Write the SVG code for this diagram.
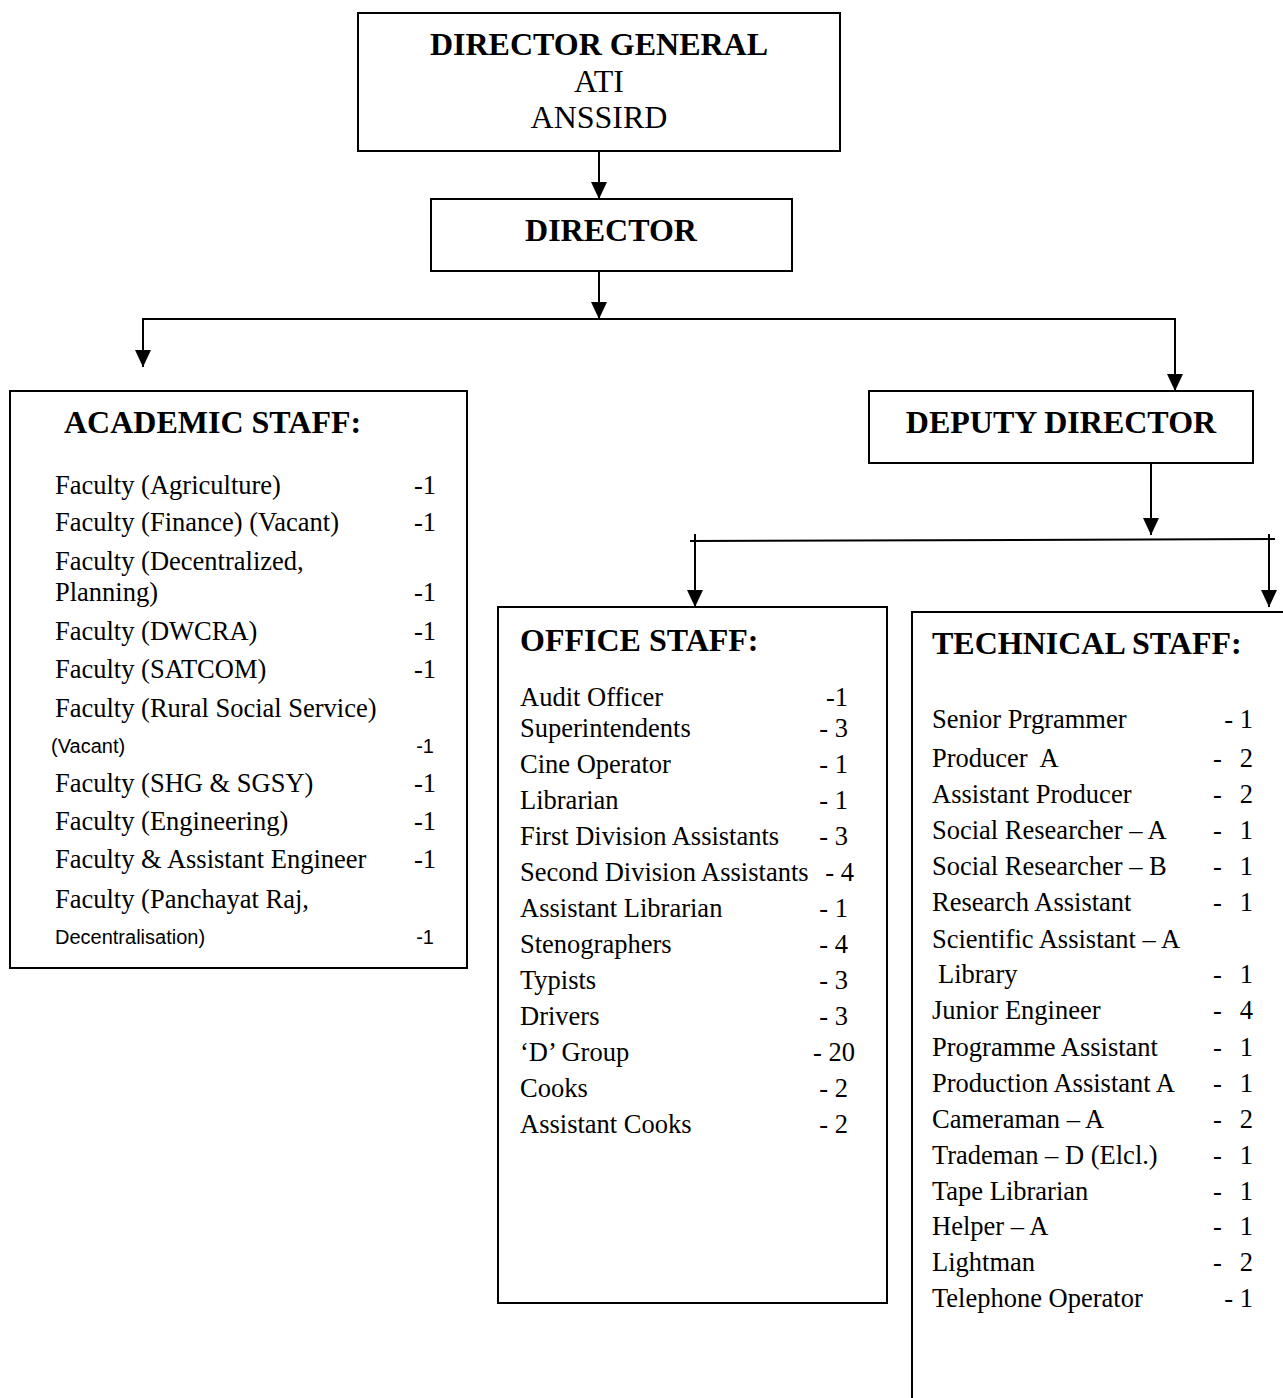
<svg xmlns="http://www.w3.org/2000/svg" width="1283" height="1398" viewBox="0 0 1283 1398">
<style>
.box{fill:#fff;stroke:#000;stroke-width:2}
.ln{fill:none;stroke:#000;stroke-width:2}
.t{font-family:"Liberation Serif","Times New Roman",serif;font-size:26.5px;fill:#000}
.h{font-family:"Liberation Serif","Times New Roman",serif;font-size:32px;font-weight:bold;fill:#000}
.r{font-family:"Liberation Serif","Times New Roman",serif;font-size:32px;fill:#000}
.s{font-family:"Liberation Sans",Arial,sans-serif;font-size:20px;fill:#000}
.c{text-anchor:middle}
.e{text-anchor:end}
</style>
<defs>
<marker id="arr" markerUnits="userSpaceOnUse" markerWidth="17" markerHeight="16" refX="17" refY="8" orient="auto">
<path d="M0,0 L17,8 L0,16 z" fill="#000"/>
</marker>
</defs>
<rect width="1283" height="1398" fill="#fff"/>

<g id="connectors">
<line class="ln" x1="599" y1="151" x2="599" y2="199" marker-end="url(#arr)"/>
<line class="ln" x1="599" y1="271" x2="599" y2="319" marker-end="url(#arr)"/>
<line class="ln" x1="143" y1="319" x2="1176" y2="319"/>
<line class="ln" x1="143" y1="318" x2="143" y2="367" marker-end="url(#arr)"/>
<line class="ln" x1="1175" y1="318" x2="1175" y2="391" marker-end="url(#arr)"/>
<line class="ln" x1="1151" y1="463" x2="1151" y2="535" marker-end="url(#arr)"/>
<line class="ln" x1="690" y1="541" x2="1275" y2="539"/>
<line class="ln" x1="695" y1="534" x2="695" y2="607" marker-end="url(#arr)"/>
<line class="ln" x1="1269" y1="534" x2="1269" y2="607" marker-end="url(#arr)"/>
</g>

<g id="director-general">
<rect class="box" x="358" y="13" width="482" height="138"/>
<text class="h c" x="599" y="55">DIRECTOR GENERAL</text>
<text class="r c" x="599" y="92">ATI</text>
<text class="r c" x="599" y="128">ANSSIRD</text>
</g>

<g id="director">
<rect class="box" x="431" y="199" width="361" height="72"/>
<text class="h c" x="611" y="241">DIRECTOR</text>
</g>

<g id="deputy-director">
<rect class="box" x="869" y="391" width="384" height="72"/>
<text class="h c" x="1061" y="433">DEPUTY DIRECTOR</text>
</g>

<g id="academic-staff">
<rect class="box" x="10" y="391" width="457" height="577"/>
<text class="h" x="64" y="433">ACADEMIC STAFF:</text>
<text class="t" x="55" y="494">Faculty (Agriculture)</text>
<text class="t" x="55" y="531">Faculty (Finance) (Vacant)</text>
<text class="t" x="55" y="570">Faculty (Decentralized,</text>
<text class="t" x="55" y="601">Planning)</text>
<text class="t" x="55" y="640">Faculty (DWCRA)</text>
<text class="t" x="55" y="678">Faculty (SATCOM)</text>
<text class="t" x="55" y="717">Faculty (Rural Social Service)</text>
<text class="s" x="51" y="753">(Vacant)</text>
<text class="t" x="55" y="792">Faculty (SHG &amp; SGSY)</text>
<text class="t" x="55" y="830">Faculty (Engineering)</text>
<text class="t" x="55" y="868">Faculty &amp; Assistant Engineer</text>
<text class="t" x="55" y="908">Faculty (Panchayat Raj,</text>
<text class="s" x="55" y="944">Decentralisation)</text>
<text class="t e" x="436" y="494">-1</text>
<text class="t e" x="436" y="531">-1</text>
<text class="t e" x="436" y="601">-1</text>
<text class="t e" x="436" y="640">-1</text>
<text class="t e" x="436" y="678">-1</text>
<text class="s e" x="434" y="753">-1</text>
<text class="t e" x="436" y="792">-1</text>
<text class="t e" x="436" y="830">-1</text>
<text class="t e" x="436" y="868">-1</text>
<text class="s e" x="434" y="944">-1</text>
</g>

<g id="office-staff">
<rect class="box" x="498" y="607" width="389" height="696"/>
<text class="h" x="520" y="651">OFFICE STAFF:</text>
<text class="t" x="520" y="706">Audit Officer</text>
<text class="t" x="520" y="737">Superintendents</text>
<text class="t" x="520" y="773">Cine Operator</text>
<text class="t" x="520" y="809">Librarian</text>
<text class="t" x="520" y="845">First Division Assistants</text>
<text class="t" x="520" y="881">Second Division Assistants</text>
<text class="t" x="520" y="917">Assistant Librarian</text>
<text class="t" x="520" y="953">Stenographers</text>
<text class="t" x="520" y="989">Typists</text>
<text class="t" x="520" y="1025">Drivers</text>
<text class="t" x="520" y="1061">‘D’ Group</text>
<text class="t" x="520" y="1097">Cooks</text>
<text class="t" x="520" y="1133">Assistant Cooks</text>
<text class="t e" x="848" y="706">-1</text>
<text class="t e" x="848" y="737">- 3</text>
<text class="t e" x="848" y="773">- 1</text>
<text class="t e" x="848" y="809">- 1</text>
<text class="t e" x="848" y="845">- 3</text>
<text class="t e" x="854" y="881">- 4</text>
<text class="t e" x="848" y="917">- 1</text>
<text class="t e" x="848" y="953">- 4</text>
<text class="t e" x="848" y="989">- 3</text>
<text class="t e" x="848" y="1025">- 3</text>
<text class="t e" x="855" y="1061">- 20</text>
<text class="t e" x="848" y="1097">- 2</text>
<text class="t e" x="848" y="1133">- 2</text>
</g>

<g id="technical-staff">
<path class="ln" d="M912,1400 V612 H1290"/>
<text class="h" x="932" y="654">TECHNICAL STAFF:</text>
<text class="t" x="932" y="728">Senior Prgrammer</text>
<text class="t" x="932" y="767">Producer&#160; A</text>
<text class="t" x="932" y="803">Assistant Producer</text>
<text class="t" x="932" y="839">Social Researcher – A</text>
<text class="t" x="932" y="875">Social Researcher – B</text>
<text class="t" x="932" y="911">Research Assistant</text>
<text class="t" x="932" y="948">Scientific Assistant – A</text>
<text class="t" x="938" y="983">Library</text>
<text class="t" x="932" y="1019">Junior Engineer</text>
<text class="t" x="932" y="1056">Programme Assistant</text>
<text class="t" x="932" y="1092">Production Assistant A</text>
<text class="t" x="932" y="1128">Cameraman – A</text>
<text class="t" x="932" y="1164">Trademan – D (Elcl.)</text>
<text class="t" x="932" y="1200">Tape Librarian</text>
<text class="t" x="932" y="1235">Helper – A</text>
<text class="t" x="932" y="1271">Lightman</text>
<text class="t" x="932" y="1307">Telephone Operator</text>
<text class="t e" x="1253" y="728">- 1</text>
<text class="t" x="1213" y="767">-</text><text class="t e" x="1253" y="767">2</text>
<text class="t" x="1213" y="803">-</text><text class="t e" x="1253" y="803">2</text>
<text class="t" x="1213" y="839">-</text><text class="t e" x="1253" y="839">1</text>
<text class="t" x="1213" y="875">-</text><text class="t e" x="1253" y="875">1</text>
<text class="t" x="1213" y="911">-</text><text class="t e" x="1253" y="911">1</text>
<text class="t" x="1213" y="983">-</text><text class="t e" x="1253" y="983">1</text>
<text class="t" x="1213" y="1019">-</text><text class="t e" x="1253" y="1019">4</text>
<text class="t" x="1213" y="1056">-</text><text class="t e" x="1253" y="1056">1</text>
<text class="t" x="1213" y="1092">-</text><text class="t e" x="1253" y="1092">1</text>
<text class="t" x="1213" y="1128">-</text><text class="t e" x="1253" y="1128">2</text>
<text class="t" x="1213" y="1164">-</text><text class="t e" x="1253" y="1164">1</text>
<text class="t" x="1213" y="1200">-</text><text class="t e" x="1253" y="1200">1</text>
<text class="t" x="1213" y="1235">-</text><text class="t e" x="1253" y="1235">1</text>
<text class="t" x="1213" y="1271">-</text><text class="t e" x="1253" y="1271">2</text>
<text class="t e" x="1253" y="1307">- 1</text>
</g>
</svg>
